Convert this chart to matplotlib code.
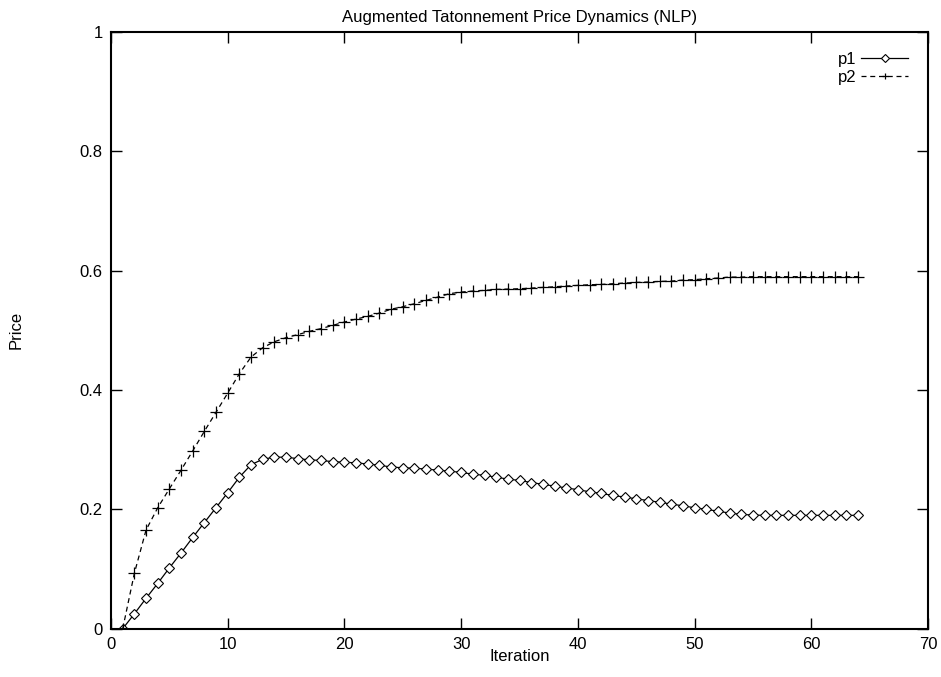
import matplotlib
matplotlib.use('Agg')
import matplotlib.pyplot as plt
import numpy as np

iteration = np.arange(1, 65)

p1 = [0.0, 0.025, 0.051, 0.076, 0.102, 0.127, 0.153, 0.178, 0.203, 0.228,
      0.254, 0.275, 0.284, 0.2875, 0.2875, 0.285, 0.283, 0.282, 0.280, 0.279,
      0.278, 0.276, 0.274, 0.271, 0.2697, 0.269, 0.2675, 0.2658, 0.264, 0.262,
      0.259, 0.257, 0.254, 0.2507, 0.2485, 0.245, 0.242, 0.239, 0.236, 0.233,
      0.2295, 0.2267, 0.2234, 0.2206, 0.2178, 0.2147, 0.212, 0.2089, 0.206, 0.2027,
      0.200, 0.197, 0.1938, 0.1916, 0.1905, 0.19, 0.19, 0.19, 0.19, 0.19,
      0.19, 0.19, 0.19, 0.19]

p2 = [0.0, 0.093, 0.1654, 0.2027, 0.2345, 0.2658, 0.298, 0.331, 0.3629, 0.395,
      0.4276, 0.4554, 0.471, 0.481, 0.4878, 0.4929, 0.4984, 0.503, 0.5084, 0.514,
      0.519, 0.5235, 0.529, 0.5355, 0.5397, 0.5447, 0.5503, 0.5558, 0.5615, 0.5642,
      0.5659, 0.567, 0.5687, 0.5692, 0.5698, 0.5709, 0.572, 0.5731, 0.5743, 0.5754,
      0.5765, 0.577, 0.5782, 0.5793, 0.5804, 0.581, 0.582, 0.5826, 0.5843, 0.585,
      0.5866, 0.5877, 0.5893, 0.5893, 0.59, 0.59, 0.59, 0.59, 0.59, 0.59,
      0.59, 0.59, 0.59, 0.59]

matplotlib.rcParams.update({'font.size': 12, 'font.family': 'Liberation Sans'})

fig = plt.figure(figsize=(9.41, 6.77), dpi=100)
ax = fig.add_axes([0.118, 0.0713, 0.8682, 0.8814])

ax.plot(iteration, p1, color='black', lw=0.9, marker='D', markersize=5,
        markerfacecolor='white', markeredgecolor='black', markeredgewidth=0.8, label='p1')
ax.plot(iteration, p2, color='black', lw=0.9, dashes=(4, 3), marker='+', markersize=8,
        markeredgewidth=0.9, label='p2')

ax.set_xlim(0, 70)
ax.set_ylim(0, 1)
ax.set_xticks(np.arange(0, 71, 10))
ax.set_yticks([0, 0.2, 0.4, 0.6, 0.8, 1])
ax.set_yticklabels(['0', '0.2', '0.4', '0.6', '0.8', '1'])
ax.tick_params(direction='in', length=8, width=1, top=True, right=True, pad=6)
for s in ax.spines.values():
    s.set_linewidth(1.5)

ax.set_title('Augmented Tatonnement Price Dynamics (NLP)', fontsize=12, pad=7)
ax.set_xlabel('Iteration', labelpad=-2)
ax.set_ylabel('Price', labelpad=40)

leg = ax.legend(loc='upper right', frameon=False, markerfirst=False, handlelength=2.8,
                handletextpad=0.3, labelspacing=0.15, borderaxespad=0.8, fontsize=12)
for h in leg.legend_handles:
    h.set_markersize(4.5)

plt.savefig('out.png', dpi=100)
